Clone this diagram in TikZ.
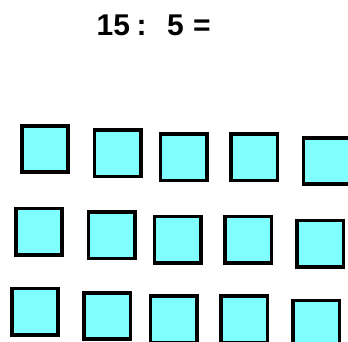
\documentclass[tikz,border=0pt]{standalone}
\usepackage{fontspec}
\setmainfont{Liberation Sans}
\definecolor{tile}{RGB}{128,255,255}
\begin{document}
\begin{tikzpicture}[x=1pt,y=-1pt,
  tilebox/.style={draw=black,fill=tile,line width=3.6pt},
  eqtext/.style={font=\fontsize{30}{36}\selectfont\bfseries,anchor=base,inner sep=0pt}]
\useasboundingbox (0,0) rectangle (348,342);
\clip (0,0) rectangle (348,342);
\node[eqtext] (n15) at (113.3,35.7) {15};
\node[eqtext] (colon) at (141.7,35.7) {:};
\node[eqtext] (n5) at (175.5,35.7) {5};
\node[eqtext] (eq) at (202,35.7) {=};
\foreach \xa/\ya in {20/124, 92.7/128.3, 158.7/132.3, 229.3/132.3, 301.7/136,
                     14/206.7, 86.7/210.3, 152.7/214.7, 223.3/214.7, 295.3/218.7,
                     10/286.7, 82.3/291, 148.7/294.3, 219.3/294.3, 291.3/298.7}
  \draw[tilebox] (\xa+1.8,\ya+1.8) rectangle (\xa+48.2,\ya+48.2);
\end{tikzpicture}
\end{document}
